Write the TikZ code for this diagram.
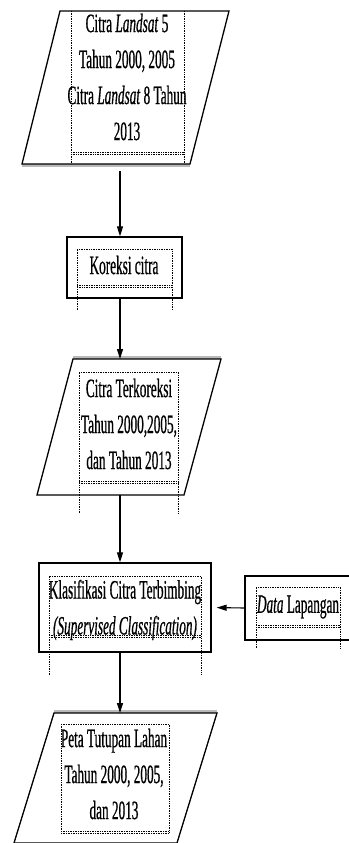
\documentclass[tikz,border=0pt]{standalone}
\usepackage{fontspec}
\setmainfont[FakeStretch=0.5,
  UprightFeatures={FakeBold=0.6},
  ItalicFeatures={FakeBold=0.6}]{Liberation Serif}
\usetikzlibrary{arrows.meta}
\begin{document}
\begin{tikzpicture}[x=1pt,y=-1pt,
  outl/.style={line width=1.3pt, line join=miter},
  shadeline/.style={line width=3pt, gray!55},
  dots/.style={densely dotted, line width=0.7pt},
  flow/.style={line width=1.1pt, -{Triangle[length=10pt,width=6pt]}},
  txt/.style={font=\fontsize{26.5}{36}\selectfont, align=center, inner sep=0pt},
  rectbox/.style={draw, outl, inner sep=0pt}
]
\useasboundingbox (0,0) rectangle (348,843);

% ---- shape 1: input image
\coordinate (p1tl) at (60,11);
\coordinate (p1tr) at (229,11);
\coordinate (p1br) at (190,164);
\coordinate (p1bl) at (22,164);
\draw[shadeline] ([yshift=-1.5pt]p1bl) -- ([yshift=-1.5pt]p1br);
\draw[outl] (p1tl) -- (p1tr) -- (p1br) -- (p1bl) -- cycle;
\draw[dots] (71,11) -- (71,164) (184,11) -- (184,164)
            (71,152) -- (184,152) (71,154) -- (184,154);
\node[txt] (t1) at (127,77) {Citra \textit{Landsat} 5\\Tahun 2000, 2005\\Citra \textit{Landsat} 8 Tahun\\2013};

% ---- box: Koreksi citra
\node[rectbox, minimum width=115pt, minimum height=61pt] (kor) at (124.5,267.5) {};
\draw[dots] (77,310) -- (77,249) -- (172,249) -- (172,310)
            (77,285) -- (172,285) (77,287) -- (172,287);
\node[txt] (kort) at (124,265) {Koreksi citra};

% ---- shape 2
\coordinate (p2tl) at (73,359);
\coordinate (p2tr) at (221,359);
\coordinate (p2br) at (184,495);
\coordinate (p2bl) at (37,495);
\draw[shadeline] ([yshift=1.5pt]p2tl) -- ([yshift=1.5pt]p2tr);
\draw[outl] (p2tl) -- (p2tr) -- (p2br) -- (p2bl) -- cycle;
\draw[dots] (79,513) -- (79,372) -- (178,372) -- (178,513)
            (79,481) -- (178,481) (79,483) -- (178,483);
\node[txt] (t2) at (129,424) {Citra Terkoreksi\\Tahun 2000,2005,\\dan Tahun 2013};

% ---- box: Klasifikasi
\node[rectbox, minimum width=172pt, minimum height=89pt] (kla) at (125,607.5) {};
\draw[dots] (49,675) -- (49,576) -- (201,576) -- (201,675)
            (49,635) -- (201,635) (49,637) -- (201,637);
\node[txt] (t3) at (125,610) {Klasifikasi Citra Terbimbing\\\textit{(Supervised Classification)}};

% ---- box: Data Lapangan
\node[rectbox, minimum width=115pt, minimum height=64pt] (dat) at (302.5,608) {};
\draw[dots] (256,648) -- (256,587) -- (340,587) -- (340,648)
            (256,625) -- (340,625) (256,627) -- (340,627);
\node[txt] (t4) at (298,607) {\textit{Data} Lapangan};

% ---- shape 3
\coordinate (p3tl) at (54,713);
\coordinate (p3tr) at (217,713);
\coordinate (p3br) at (177,843);
\coordinate (p3bl) at (14,843);
\draw[shadeline] ([yshift=1.5pt]p3tl) -- ([yshift=1.5pt]p3tr);
\draw[outl] (p3tl) -- (p3tr) -- (p3br) -- (p3bl) -- cycle;
\draw[dots] (61,724) rectangle (169,833) (61,831) -- (169,831);
\node[txt] (t5) at (114,774) {Peta Tutupan Lahan\\Tahun 2000, 2005,\\dan 2013};

% ---- connectors
\coordinate (a1) at (120,171);
\coordinate (p2t) at (120,359);
\coordinate (p2b) at (120,495);
\coordinate (p3t) at (120,713);
\draw[flow] (a1) -- (kor.north -| a1);
\draw[flow] (kor.south -| a1) -- (p2t);
\draw[flow] (p2b) -- (kla.north -| a1);
\draw[flow] (kla.south -| a1) -- (p3t);
\draw[flow, shorten >=5pt] (dat.west) -- (kla.east);
\end{tikzpicture}
\end{document}
